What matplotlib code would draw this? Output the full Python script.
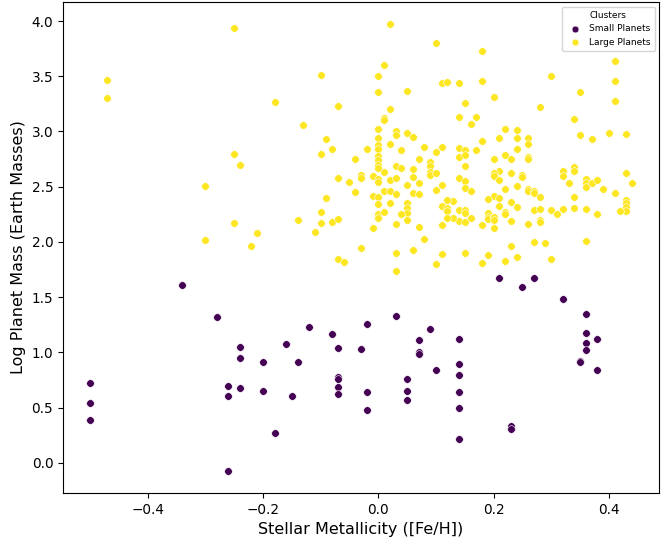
import matplotlib
matplotlib.use("Agg")
import matplotlib.pyplot as plt

# metallicity [Fe/H] and log10 planet mass for each cluster
small_feh = [-0.34, -0.28, -0.24, -0.24, -0.24, -0.26, -0.26, -0.26, -0.50, -0.50,
             -0.50, -0.20, -0.20, -0.16, -0.14, -0.15, -0.18, -0.12, -0.08, -0.07,
             -0.07, -0.07, -0.07, -0.07, -0.02, -0.03, -0.02, -0.02, 0.03, 0.05,
             0.05, 0.05, 0.07, 0.07, 0.07, 0.09, 0.10, 0.14, 0.14, 0.14,
             0.14, 0.14, 0.14, 0.21, 0.25, 0.27, 0.32, 0.36, 0.36, 0.36,
             0.38, 0.36, 0.35, 0.35, 0.38, 0.23, 0.23]
small_mass = [1.61, 1.32, 1.05, 0.95, 0.68, 0.70, 0.61, -0.07, 0.72, 0.54,
              0.39, 0.91, 0.65, 1.08, 0.91, 0.61, 0.27, 1.23, 1.17, 1.04,
              0.78, 0.76, 0.69, 0.62, 1.26, 1.03, 0.64, 0.48, 1.33, 0.76,
              0.65, 0.57, 1.11, 1.00, 0.99, 1.21, 0.84, 1.12, 0.90, 0.80,
              0.64, 0.50, 0.22, 1.67, 1.59, 1.67, 1.48, 1.35, 1.18, 1.09,
              1.12, 1.02, 0.92, 0.91, 0.84, 0.33, 0.31]

large_feh = [-0.47, -0.47, -0.25, -0.25, -0.24, -0.30, -0.30, -0.25, -0.21, -0.22,
             0.02, 0.10, 0.01, 0.00, -0.10, -0.18, 0.00, 0.05, 0.11, 0.12,
             0.14, -0.07, 0.02, 0.01, 0.01, -0.13, -0.09, -0.10, -0.08, 0.00,
             0.00, 0.00, 0.00, 0.02, 0.03, 0.03, 0.05, 0.06, 0.04, -0.02,
             -0.04, 0.00, 0.00, 0.00, 0.00, 0.01, 0.03, 0.04, 0.06, 0.08,
             0.10, 0.11, 0.07, 0.09, 0.09, 0.09, 0.09, 0.10, 0.14, 0.14,
             0.06, 0.18, 0.41, 0.30, 0.18, 0.41, 0.35, 0.41, 0.20, 0.15,
             0.28, 0.14, 0.17, 0.16, 0.34, 0.22, 0.24, 0.21, 0.24, 0.26,
             0.26, 0.18, 0.35, 0.37, 0.40, 0.43, 0.15, 0.15, 0.17, 0.15,
             0.22, 0.24, 0.23, 0.20, 0.26, 0.26, 0.21, 0.20, 0.20, 0.23,
             0.25, 0.25, 0.32, 0.32, 0.34, 0.34, 0.43, 0.14, 0.15, 0.21,
             0.36, 0.36, 0.36, 0.37, 0.38, 0.33, 0.44, 0.39, 0.41, 0.15,
             0.16, 0.22, 0.24, 0.26, 0.26, 0.27, 0.27, 0.28, 0.34, 0.20,
             0.19, 0.21, 0.23, 0.13, 0.21, 0.24, 0.27, 0.28, 0.30, 0.31,
             0.32, 0.34, 0.36, 0.38, 0.43, 0.43, 0.43, 0.43, 0.42, 0.14,
             0.15, 0.15, 0.14, 0.15, 0.13, 0.16, 0.19, 0.19, 0.19, 0.20,
             0.20, 0.22, 0.22, 0.23, 0.18, 0.20, 0.26, 0.28, 0.28, 0.27,
             0.29, 0.36, 0.23, 0.15, 0.19, 0.22, 0.24, 0.30, 0.18, 0.11,
             -0.07, -0.05, -0.03, -0.03, -0.01, 0.00, 0.00, 0.02, 0.03, 0.05,
             0.07, 0.10, -0.04, -0.09, -0.01, 0.00, 0.01, 0.02, 0.03, 0.06,
             0.07, 0.12, 0.11, 0.12, 0.12, 0.12, 0.00, 0.00, 0.00, 0.01,
             0.02, 0.05, 0.05, 0.05, 0.05, 0.04, 0.03, -0.01, 0.07, 0.08,
             0.11, -0.10, -0.10, -0.08, -0.07, -0.03, -0.07, -0.06, 0.03, 0.06,
             0.11, 0.10, 0.03, -0.14, -0.11]
large_mass = [3.47, 3.30, 3.94, 2.80, 2.70, 2.51, 2.02, 2.17, 2.08, 1.96,
              3.97, 3.80, 3.60, 3.50, 3.51, 3.27, 3.36, 3.37, 3.44, 3.45,
              3.44, 3.23, 3.20, 3.12, 3.10, 3.06, 2.93, 2.80, 2.84, 3.02,
              2.94, 2.88, 2.84, 2.89, 3.00, 2.97, 2.99, 2.95, 2.83, 2.84,
              2.75, 2.78, 2.74, 2.70, 2.67, 2.63, 2.69, 2.67, 2.66, 2.86,
              2.81, 2.86, 2.75, 2.72, 2.69, 2.63, 2.61, 2.62, 2.85, 2.77,
              2.59, 3.73, 3.64, 3.50, 3.46, 3.46, 3.36, 3.28, 3.31, 3.26,
              3.22, 3.13, 3.13, 3.07, 3.11, 3.02, 3.01, 2.94, 2.94, 2.94,
              2.89, 2.91, 2.97, 2.93, 2.99, 2.98, 2.83, 2.79, 2.83, 2.69,
              2.79, 2.84, 2.75, 2.75, 2.77, 2.75, 2.64, 2.62, 2.60, 2.62,
              2.61, 2.59, 2.64, 2.60, 2.68, 2.64, 2.62, 2.58, 2.55, 2.56,
              2.57, 2.53, 2.50, 2.53, 2.56, 2.53, 2.53, 2.48, 2.44, 2.49,
              2.46, 2.48, 2.51, 2.48, 2.46, 2.46, 2.44, 2.41, 2.41, 2.42,
              2.39, 2.40, 2.36, 2.37, 2.33, 2.32, 2.29, 2.30, 2.29, 2.25,
              2.30, 2.31, 2.30, 2.25, 2.38, 2.35, 2.32, 2.28, 2.28, 2.29,
              2.29, 2.26, 2.19, 2.18, 2.22, 2.22, 2.26, 2.23, 2.21, 2.23,
              2.20, 2.27, 2.25, 2.19, 2.15, 2.13, 2.16, 2.20, 2.18, 2.00,
              1.99, 2.01, 1.96, 1.90, 1.88, 1.83, 1.86, 1.85, 1.81, 2.52,
              2.58, 2.54, 2.61, 2.58, 2.60, 2.57, 2.54, 2.56, 2.58, 2.52,
              2.53, 2.47, 2.45, 2.40, 2.42, 2.41, 2.46, 2.46, 2.43, 2.44,
              2.43, 2.38, 2.33, 2.31, 2.28, 2.22, 2.34, 2.25, 2.22, 2.27,
              2.35, 2.35, 2.31, 2.26, 2.20, 2.25, 2.16, 2.13, 2.14, 2.03,
              2.15, 2.27, 2.17, 2.18, 2.21, 1.95, 1.85, 1.82, 1.90, 1.93,
              1.89, 1.80, 1.74, 2.20, 2.09]

cluster_names = ['Small Planets', 'Large Planets']
cluster_colors = ['#440154', '#fde725']

fig = plt.figure(figsize=(6.61, 5.41), dpi=100)
ax = fig.add_axes([0.0953, 0.0887, 0.9017, 0.9076])

for name, color, xs, ys in zip(cluster_names, cluster_colors,
                               [small_feh, large_feh], [small_mass, large_mass]):
    ax.scatter(xs, ys, s=30, c=color, edgecolors='white', linewidths=0.4, label=name)

ax.set_xlabel('Stellar Metallicity ([Fe/H])', fontsize=11.5)
ax.set_ylabel('Log Planet Mass (Earth Masses)', fontsize=11.5)
ax.tick_params(labelsize=9.8)

leg = ax.legend(title='Clusters', loc='upper right', fontsize=6.5, title_fontsize=6.5,
                markerscale=0.9, handletextpad=0.5, borderpad=0.45)

fig.savefig('out.png', dpi=100)
